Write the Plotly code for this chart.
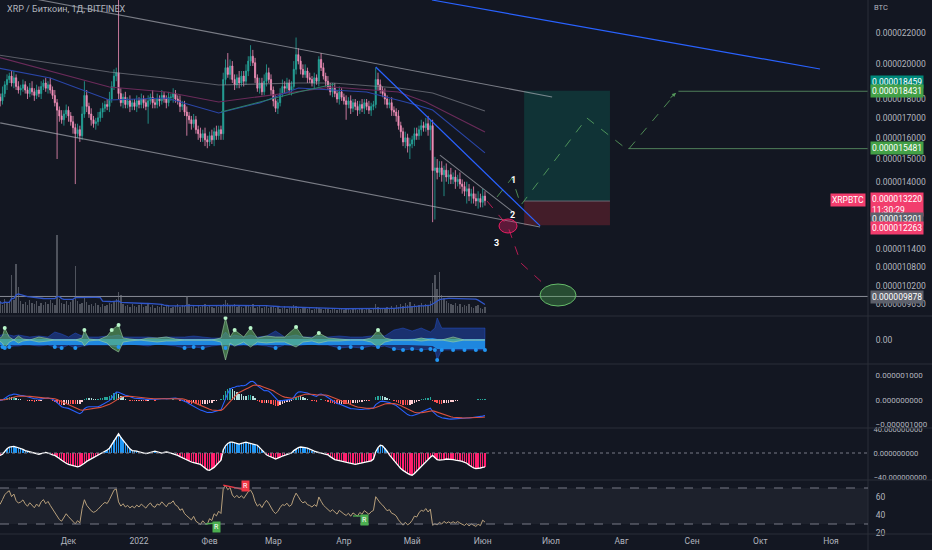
import numpy as np
import pandas as pd
import plotly.graph_objects as go

# XRP / BTC daily candles, values in 1e-9 BTC (18000 -> 0.000018000)
first_day = "2021-10-31"
first_open = 18000
close = [
    18100, 17900, 18300, 18800, 19100, 19300, 18900, 19200, 18700, 18500,
    18600, 18800, 18500, 18300, 18600, 18400, 18200, 18500, 18300, 18700,
    18900, 18600, 18800, 18500, 18200, 17800, 17400, 17100, 16900, 17200,
    17400, 17100, 16800, 16500, 16200, 16400, 16100, 17200, 18200, 17600,
    17200, 16900, 16700, 16800, 17000, 17300, 17500, 17700, 17600, 18000,
    18700, 19300, 19500, 18300, 17800, 18100, 17700, 17900, 17600, 17800,
    17600, 17900, 17700, 18000, 17800, 17600, 17900, 18100, 17800, 17700,
    18000, 17900, 18200, 18000, 17800, 18100, 18100, 18300, 18000, 17900,
    17600, 17700, 17300, 17100, 16900, 16700, 16900, 16400, 16200, 16000,
    16200, 15900, 15800, 16100, 15900, 16300, 16100, 16400, 16200, 19100,
    19800, 19400, 19900, 19100, 18800, 19200, 18900, 19300, 19000, 19600,
    20200, 20500, 20100, 19200, 18600, 18900, 18400, 19000, 19500, 19100,
    18500, 17900, 17500, 17800, 18300, 18700, 18600, 18900, 18500, 18700,
    19700, 20600, 20200, 19700, 19400, 19600, 19200, 19100, 18900, 19200,
    19000, 20300, 19800, 19300, 19000, 18700, 18400, 18600, 18300, 18000,
    18400, 18100, 17900, 17700, 17900, 17500, 17800, 17600, 17400, 17700,
    17500, 17800, 17600, 17400, 17600, 17700, 19100, 18800, 18500, 18300,
    18000, 17700, 17800, 17400, 17300, 17100, 16600, 16300, 15800, 16000,
    15600, 15700, 15900, 16200, 16100, 16400, 16600, 16500, 16700, 16400,
    16600, 14480, 14600, 14400, 14600, 14300, 14500, 14200, 14300, 14100,
    14200, 14000, 14100, 13900, 13800, 13600, 13700, 13400, 13500, 13300,
    13200, 13300, 13150, 13400, 13220,
]
# wick length above / below the body, in 1e-7 BTC
wick_up = [
    3, 2, 4, 2, 3, 2, 3, 4, 2, 3, 2, 3, 2, 2, 3, 4, 2, 3, 2, 3,
    2, 3, 2, 4, 2, 3, 2, 2, 3, 2, 3, 2, 2, 3, 2, 3, 2, 4, 8, 3,
    2, 3, 2, 2, 3, 2, 3, 2, 3, 4, 3, 4, 3, 55, 3, 2, 3, 2, 3, 2,
    2, 3, 2, 3, 2, 2, 3, 2, 4, 2, 3, 2, 3, 2, 2, 3, 2, 3, 2, 2,
    3, 2, 2, 3, 2, 2, 3, 2, 2, 3, 2, 3, 2, 2, 3, 2, 3, 2, 2, 4,
    5, 9, 4, 3, 3, 2, 4, 3, 3, 4, 3, 7, 4, 3, 2, 3, 3, 4, 5, 3,
    3, 2, 3, 2, 3, 4, 3, 3, 2, 3, 5, 11, 4, 3, 3, 4, 2, 3, 2, 3,
    2, 2, 4, 3, 2, 3, 2, 3, 3, 2, 3, 2, 2, 3, 2, 3, 2, 2, 3, 2,
    3, 2, 2, 3, 2, 2, 7, 4, 3, 2, 3, 2, 2, 3, 2, 2, 3, 2, 2, 3,
    2, 3, 2, 3, 3, 2, 3, 2, 3, 4, 3, 3, 5, 4, 3, 3, 2, 3, 2, 3,
    2, 3, 2, 3, 2, 2, 3, 2, 2, 3, 2, 3, 2, 3, 2,
]
wick_dn = [
    2, 3, 2, 2, 3, 2, 2, 3, 2, 2, 3, 2, 2, 3, 2, 2, 3, 2, 2, 3,
    2, 2, 3, 2, 2, 2, 24, 3, 2, 3, 2, 3, 2, 3, 23, 2, 3, 2, 2, 3,
    2, 3, 2, 3, 2, 2, 3, 2, 2, 3, 2, 2, 3, 3, 2, 3, 2, 2, 3, 2,
    2, 3, 2, 2, 3, 2, 9, 2, 3, 2, 2, 3, 2, 2, 3, 2, 2, 3, 2, 2,
    3, 2, 2, 10, 2, 3, 2, 2, 3, 2, 2, 3, 3, 2, 2, 3, 2, 2, 3, 3,
    3, 2, 3, 2, 3, 2, 3, 2, 3, 2, 3, 3, 2, 3, 2, 3, 2, 2, 3, 2,
    3, 3, 2, 3, 2, 2, 3, 2, 2, 3, 2, 3, 2, 3, 2, 2, 3, 2, 2, 3,
    2, 3, 2, 2, 3, 2, 2, 3, 2, 2, 3, 2, 2, 8, 2, 3, 2, 2, 3, 2,
    2, 3, 2, 2, 3, 2, 2, 3, 2, 2, 3, 2, 2, 3, 2, 3, 2, 3, 2, 3,
    3, 6, 2, 3, 2, 2, 3, 2, 2, 3, 10, 21, 20, 3, 2, 3, 9, 2, 3, 2,
    2, 3, 2, 2, 3, 2, 5, 2, 3, 2, 2, 3, 2, 2, 2,
]
volume = [
    9, 12, 8, 14, 10, 11, 38, 13, 49, 26, 12, 9, 11, 8, 13, 10, 9, 12, 7, 10,
    8, 11, 9, 13, 10, 8, 78, 14, 10, 9, 12, 8, 11, 13, 47, 12, 9, 10, 15, 11,
    8, 9, 7, 10, 8, 6, 9, 7, 8, 10, 9, 12, 14, 21, 18, 9, 7, 8, 6, 9,
    7, 6, 8, 9, 6, 7, 10, 6, 8, 5, 7, 6, 9, 6, 7, 8, 5, 6, 7, 9,
    6, 8, 7, 17, 9, 6, 7, 5, 8, 6, 7, 9, 6, 8, 6, 5, 7, 6, 8, 9,
    13, 10, 8, 7, 9, 6, 8, 6, 5, 7, 8, 6, 9, 5, 6, 7, 5, 6, 8, 5,
    6, 7, 5, 6, 4, 5, 7, 4, 5, 6, 8, 7, 5, 4, 6, 5, 4, 5, 3, 4,
    6, 5, 4, 3, 5, 4, 3, 4, 5, 3, 4, 5, 3, 4, 4, 3, 5, 4, 3, 4,
    4, 3, 4, 5, 3, 4, 9, 6, 5, 4, 5, 6, 4, 7, 5, 8, 6, 9, 7, 10,
    8, 11, 7, 9, 6, 8, 10, 7, 9, 8, 12, 30, 38, 24, 41, 18, 15, 12, 10, 9,
    8, 10, 7, 9, 6, 8, 7, 9, 6, 5, 7, 8, 5, 4, 6,
]
# blue / pink oscillator (4th pane)
osc = [
    -3, -4, -2, 3, 7, 10, 11, 11, 10, 9, 8, 6, 4, 3, 2,
    1, 0, -1, -2, -1, 0, 1, 0, -2, -3, -4, -6,
    -9, -12, -15, -17, -19, -20, -21, -22, -23, -22, -20,
    -17, -14, -12, -10, -8, -6, -4, -2, 0,
    3, 5, 8, 14, 22, 28, 32, 26, 21, 16, 11, 7, 4,
    4, 3, 2, 1, 0, -1, 0, 1, 2, 3, 2, 1, 0, 1, 2, 1, 0, -1, -2, -4,
    -6, -8, -10, -12, -14, -15, -16, -17, -18, -19,
    -22, -25, -28, -29, -27, -24, -20, -16, -12,
    5, 12, 16, 18, 18, 17, 16, 15, 16, 17, 18, 17, 16, 15, 14, 13,
    9, 5, 1, -3, -5, -6, -8, -10, -9, -7, -5, -4, -2, -1, 0,
    4, 7, 9, 10, 10, 9, 8, 6, 4, 3, 2, 1, 0, -1, -2, -3,
    -6, -9, -11, -12, -13, -14, -14, -15, -16, -17, -18, -19, -18, -17, -16, -15, -15, -14, -13, -10,
    2, 9, 13, 12, 8, 3,
    -3, -8, -13, -18, -22, -26, -29, -32, -34, -36, -37,
    -34, -30, -26, -22, -18, -14, -10, -7, -4,
    -8, -11, -12, -12, -11, -10, -10, -11, -11, -12, -12, -13, -14, -15, -17,
    -20, -23, -25, -26, -26, -25, -24, -23,
]

# wave indicator (2nd pane), sampled at candle indices
wave_idx = [0, 2, 3, 5, 7, 9, 11, 14, 18, 22, 25, 28, 31, 34, 37, 38, 40, 44, 48, 50,
            53, 55, 58, 62, 66, 70, 74, 78, 82, 86, 90, 94, 98, 100, 102, 104, 108, 111, 114, 118,
            122, 126, 131, 134, 138, 141, 145, 150, 155, 160, 164, 167, 170, 174, 178, 182, 186, 190, 192, 193,
            195, 200, 205, 210, 214]
blue_up = [4, 5, 6, 5, 4, 5, 4, 3, 4, 3, 8, 6, 3, 7, 4, 6, 3, 3, 4, 4,
           5, 3, 3, 3, 3, 2, 3, 3, 3, 4, 3, 2, 2, 8, 3, 5, 3, 5, 3, 4,
           9, 3, 5, 3, 3, 4, 3, 4, 3, 3, 4, 5, 4, 10, 12, 9, 12, 8, 12, 22,
           12, 12, 12, 12, 12]
blue_dn = [-6, -7, -8, -7, -6, -6, -5, -5, -6, -5, -7, -8, -5, -8, -6, -6, -5, -5, -5, -6,
           -7, -5, -4, -5, -6, -4, -5, -6, -8, -7, -8, -6, -5, -8, -5, -6, -5, -6, -5, -6,
           -8, -5, -6, -5, -4, -5, -5, -8, -7, -8, -6, -7, -6, -9, -10, -9, -10, -9, -10, -20,
           -10, -10, -10, -10, -10]
green_up = [0, 4, 12, 3, 0, 4, 1, 0, 3, 1, 0, 0, 0, 0, 2, 10, 1, 0, 4, 10,
            15, 2, 1, 0, 2, 2, 3, 1, 0, 0, 0, 0, 2, 22, 3, 10, 3, 12, 2, 4,
            3, 3, 13, 3, 2, 7, 2, 1, 0, 0, 2, 10, 2, 0, 0, 0, 2, 0, 0, 0,
            0, 3, 0, 0, 0]
green_dn = [0, -3, -8, -2, 0, -3, -1, 0, -2, -1, 0, 0, 0, 0, -2, -6, -1, 0, -3, -8,
            -12, -2, -1, 0, -1, -2, -1, -1, 0, 0, 0, 0, -2, -20, -3, -6, -2, -7, -2, -3,
            -2, -2, -7, -2, -1, -3, -1, -1, 0, 0, -2, -7, -2, 0, 0, 0, -1, 0, 0, 0,
            0, -2, 0, 0, 0]
core_idx = [0, 60, 120, 180, 191, 193, 214]
core_up = [1, 1, 1, 1, 2, 1, 1]
core_dn = [-5, -5, -5, -5, -6, -9, -9]

# moving averages (1e-9 BTC)
ma_gray_d = ["2021-10-31", "2021-12-19", "2022-01-12", "2022-02-05", "2022-03-12",
             "2022-03-27", "2022-04-25", "2022-05-10", "2022-06-02"]
ma_gray = [20580, 19540, 19190, 18780, 18900, 18900, 18610, 18330, 17360]
ma_purple_d = ["2021-10-31", "2021-12-19", "2022-01-13", "2022-02-05", "2022-03-27",
               "2022-04-25", "2022-05-07", "2022-06-02"]
ma_purple = [20450, 18670, 18390, 17840, 18670, 18390, 17840, 16280]
ma_blue_d = ["2021-10-31", "2021-11-23", "2021-12-19", "2022-01-13", "2022-02-05", "2022-02-23",
             "2022-03-12", "2022-04-11", "2022-05-03", "2022-05-10", "2022-06-02"]
ma_blue = [19780, 19190, 17950, 18060, 17250, 17790, 18610, 18390, 17680, 17410, 15280]
ma_green_d = ["2022-02-06", "2022-02-23", "2022-03-12", "2022-03-28"]
ma_green = [17300, 17840, 18390, 18840]

# drawings on the price pane: (start, price, end, price)
channel_lines = [("2021-11-10", 24600, "2022-07-01 12:00", 18110),
                 ("2021-11-01", 16740, "2022-06-26 05:00", 12200),
                 ("2022-05-13 05:00", 15180, "2022-06-14 07:00", 12770)]
blue_lines = [("2022-04-15", 19840, "2022-06-26 05:00", 12240),
              ("2022-05-09 17:00", 24320, "2022-10-27 05:00", 19720)]
level_start = ["2022-08-26", "2022-08-04", "2021-10-31"]
level_price = [18431, 15481, 9878]
pos_start, pos_end = "2022-06-19 05:00", "2022-07-26 22:00"
pos_target, pos_entry, pos_stop = 18459, 13201, 12263
up_path_d = ["2022-06-07 07:00", "2022-06-13 21:00", "2022-06-17 19:00",
             "2022-07-16 19:00", "2022-08-03 19:00", "2022-08-24 22:00"]
up_path = [13365, 14160, 13040, 16990, 15415, 18330]
down_path_d = ["2022-06-02 22:00", "2022-06-12 00:00", "2022-06-17 19:00", "2022-06-28 07:00"]
down_path = [13200, 12240, 10935, 10230]

# rsi divergence marks
div_bear_d = ["2022-02-07", "2022-02-17"]
div_bear = [73.3, 67.8]
div_bull1_d = ["2022-01-30", "2022-02-04"]
div_bull1 = [30.0, 31.1]
div_bull2_d = ["2022-04-05", "2022-04-10"]
div_bull2 = [38.9, 38.9]

month_ticks = ["2021-11-01", "2021-12-01", "2022-01-01", "2022-02-01", "2022-03-01", "2022-04-01",
               "2022-05-01", "2022-06-01", "2022-07-01", "2022-08-01", "2022-09-01", "2022-10-01",
               "2022-11-01"]
month_names = ["Ноя", "Дек", "2022", "Фев", "Мар", "Апр", "Май", "Июн", "Июл", "Авг", "Сен", "Окт", "Ноя"]
price_ticks = [22000, 20000, 18000, 17000, 16000, 15000, 14000, 11400, 10800, 10200, 9650]
price_tags = [18459, 18431, 15481, 13220, 13201, 12263, 9878]

# ---------------------------------------------------------------------------
SAT = 1e-9
DAY_MS = 86400000
BG = "#131722"
TXT = "#b2b5be"
W_PX, H_PX = 868, 534   # plot area in pixels

dates = pd.date_range(first_day, periods=len(close), freq="D")
c = np.array(close, dtype=float)
o = np.concatenate([[first_open], c[:-1]])
hi = np.maximum(o, c) + np.array(wick_up) * 100
lo = np.minimum(o, c) - np.array(wick_dn) * 100
cs = pd.Series(c * SAT, index=dates)

# macd 12/26/9
macd = cs.ewm(span=12, adjust=False).mean() - cs.ewm(span=26, adjust=False).mean()
signal = macd.ewm(span=9, adjust=False).mean()
hist = (macd - signal).values
prev = np.concatenate([[hist[0]], hist[:-1]])
hist_col = np.where(hist >= 0, np.where(hist >= prev, "#26a69a", "#b2dfdb"),
                    np.where(hist < prev, "#ff5252", "#ffcdd2"))


# rsi 14, wilder smoothing seeded with the mean of the first 14 moves
def wilder(s, n=14):
    seeded = pd.concat([pd.Series([s.iloc[:n].mean()]), s.reset_index(drop=True)])
    return seeded.ewm(alpha=1 / n, adjust=False).mean().iloc[1:].values


delta = pd.Series(np.diff(np.concatenate([[first_open], c])))
avg_g = wilder(delta.clip(lower=0))
avg_l = wilder(-delta.clip(upper=0))
rsi = 100 - 100 / (1 + avg_g / avg_l)

osc_a = np.array(osc)
osc_col = np.where(np.abs(osc_a) < 3, "#787b86", np.where(osc_a > 0, "#2196f3", "#ff1f6d"))
vol_ma = pd.Series(volume).rolling(20, min_periods=1).mean()


def px(x, y):
    return x / W_PX, 1 - y / H_PX


def band(idx, up, dn):
    d = list(dates[idx])
    return d + d[::-1], list(up) + list(dn)[::-1]


fig = go.Figure()

# moving averages
for d, v, col in [(ma_gray_d, ma_gray, "rgba(150,152,160,0.55)"),
                  (ma_purple_d, ma_purple, "#6b2b5a"),
                  (ma_blue_d, ma_blue, "#2a46a8"),
                  (ma_green_d, ma_green, "#2e8068")]:
    fig.add_trace(go.Scatter(x=d, y=np.array(v) * SAT, mode="lines",
                             line=dict(color=col, width=1.1), hoverinfo="skip"))

# long position box
fig.add_trace(go.Scatter(x=[pos_start, pos_end, pos_end, pos_start, pos_start],
                         y=np.array([pos_target, pos_target, pos_entry, pos_entry, pos_target]) * SAT,
                         fill="toself", fillcolor="rgba(8,153,129,0.22)", mode="lines",
                         line=dict(width=0), hoverinfo="skip"))
fig.add_trace(go.Scatter(x=[pos_start, pos_end, pos_end, pos_start, pos_start],
                         y=np.array([pos_entry, pos_entry, pos_stop, pos_stop, pos_entry]) * SAT,
                         fill="toself", fillcolor="rgba(242,54,69,0.22)", mode="lines",
                         line=dict(width=0), hoverinfo="skip"))
fig.add_trace(go.Scatter(x=[pos_start, pos_end], y=[pos_entry * SAT] * 2, mode="lines",
                         line=dict(color="rgba(120,123,134,0.8)", width=1), hoverinfo="skip"))

# trend lines
for d0, p0, d1, p1 in channel_lines:
    fig.add_trace(go.Scatter(x=[d0, d1], y=[p0 * SAT, p1 * SAT], mode="lines",
                             line=dict(color="rgba(190,192,200,0.6)", width=1.1), hoverinfo="skip"))
for d0, p0, d1, p1 in blue_lines:
    fig.add_trace(go.Scatter(x=[d0, d1], y=[p0 * SAT, p1 * SAT], mode="lines",
                             line=dict(color="#2962ff", width=1.2), hoverinfo="skip"))
x_end = "2022-11-17 07:00"
for d0, p, col in zip(level_start, level_price, ["#4f7f5a", "#4f7f5a", "#8a8d96"]):
    fig.add_trace(go.Scatter(x=[d0, x_end], y=[p * SAT] * 2, mode="lines",
                             line=dict(color=col, width=1), hoverinfo="skip"))

# projected paths
fig.add_trace(go.Scatter(x=up_path_d, y=np.array(up_path) * SAT, mode="lines",
                         line=dict(color="rgba(102,187,106,0.7)", width=1, dash="dash"), hoverinfo="skip"))
fig.add_trace(go.Scatter(x=down_path_d, y=np.array(down_path) * SAT, mode="lines",
                         line=dict(color="rgba(233,30,99,0.75)", width=1, dash="dash"), hoverinfo="skip"))

# candles
fig.add_trace(go.Candlestick(x=dates, open=o * SAT, high=hi * SAT, low=lo * SAT, close=c * SAT,
                             increasing=dict(line=dict(color="#26a69a", width=0.8), fillcolor="#26a69a"),
                             decreasing=dict(line=dict(color="#f28fb9", width=0.8), fillcolor="#f28fb9"),
                             whiskerwidth=0, hoverinfo="skip"))

# volume
fig.add_trace(go.Bar(x=dates, y=volume, yaxis="y6", width=0.6 * DAY_MS,
                     marker=dict(color="rgba(120,123,134,0.6)", line=dict(width=0)), hoverinfo="skip"))
fig.add_trace(go.Scatter(x=dates, y=vol_ma, yaxis="y6", mode="lines",
                         line=dict(color="#2f55c9", width=1.3), hoverinfo="skip"))

# wave pane
bx, by = band(wave_idx, blue_up, blue_dn)
fig.add_trace(go.Scatter(x=bx, y=by, yaxis="y2", fill="toself", fillcolor="rgba(41,98,255,0.35)",
                         mode="lines", line=dict(color="rgba(41,98,255,0.6)", width=0.6), hoverinfo="skip"))
cx, cy = band(core_idx, core_up, core_dn)
fig.add_trace(go.Scatter(x=cx, y=cy, yaxis="y2", fill="toself", fillcolor="rgba(33,150,243,0.85)",
                         mode="lines", line=dict(width=0), hoverinfo="skip"))
gx, gy = band(wave_idx, green_up, green_dn)
fig.add_trace(go.Scatter(x=gx, y=gy, yaxis="y2", fill="toself", fillcolor="rgba(102,187,106,0.55)",
                         mode="lines", line=dict(color="rgba(165,214,167,0.8)", width=0.7), hoverinfo="skip"))
g_pk = [k for k, v in enumerate(green_up) if v >= 7]
fig.add_trace(go.Scatter(x=dates[[wave_idx[k] for k in g_pk]], y=[green_up[k] for k in g_pk], yaxis="y2",
                         mode="markers", marker=dict(color="#b9f6ca", size=4), hoverinfo="skip"))
b_pk = [k for k, v in enumerate(blue_dn) if v <= -7]
fig.add_trace(go.Scatter(x=dates[[wave_idx[k] for k in b_pk]], y=[blue_dn[k] for k in b_pk], yaxis="y2",
                         mode="markers", marker=dict(color="#2196f3", size=4), hoverinfo="skip"))

# macd pane
fig.add_trace(go.Bar(x=dates, y=hist, yaxis="y3", width=0.6 * DAY_MS,
                     marker=dict(color=hist_col, line=dict(width=0)), hoverinfo="skip"))
fig.add_trace(go.Scatter(x=dates, y=macd, yaxis="y3", mode="lines",
                         line=dict(color="#2962ff", width=1.1), hoverinfo="skip"))
fig.add_trace(go.Scatter(x=dates, y=signal, yaxis="y3", mode="lines",
                         line=dict(color="#d9513f", width=1.1), hoverinfo="skip"))

# oscillator pane
fig.add_trace(go.Bar(x=dates, y=osc, yaxis="y4", width=0.6 * DAY_MS,
                     marker=dict(color=osc_col, line=dict(width=0)), hoverinfo="skip"))
fig.add_trace(go.Scatter(x=dates, y=osc, yaxis="y4", mode="lines",
                         line=dict(color="#ffffff", width=1.3), hoverinfo="skip"))

# rsi pane
fig.add_trace(go.Scatter(x=dates, y=rsi, yaxis="y5", mode="lines",
                         line=dict(color="#b8a07c", width=1), hoverinfo="skip"))
for d, v, col in [(div_bear_d, div_bear, "#f23645"), (div_bull1_d, div_bull1, "#4caf50"),
                  (div_bull2_d, div_bull2, "#4caf50")]:
    fig.add_trace(go.Scatter(x=d, y=v, yaxis="y5", mode="lines",
                             line=dict(color=col, width=1.3), hoverinfo="skip"))

# ---------------------------------------------------------------------------
pane_px = [316, 364, 428, 480, 534]
dom = [1 - p / H_PX for p in pane_px]

shapes = []
for p in pane_px[:-1]:
    shapes.append(dict(type="line", xref="paper", yref="paper", x0=0, x1=932 / W_PX,
                       y0=1 - p / H_PX, y1=1 - p / H_PX, line=dict(color="#2a2e39", width=1)))
shapes.append(dict(type="line", xref="paper", yref="paper", x0=0, x1=932 / W_PX, y0=0, y1=0,
                   line=dict(color="#2a2e39", width=1)))
shapes.append(dict(type="line", xref="paper", yref="paper", x0=1, x1=1, y0=-16 / H_PX, y1=1,
                   line=dict(color="#2a2e39", width=1)))
shapes.append(dict(type="rect", xref="paper", yref="y5", x0=0, x1=1, y0=30, y1=70,
                   fillcolor="rgba(120,123,134,0.10)", line=dict(width=0), layer="below"))
for lv in (30, 70):
    shapes.append(dict(type="line", xref="paper", yref="y5", x0=0, x1=1, y0=lv, y1=lv,
                       line=dict(color="#787b86", width=1, dash="dash")))
shapes.append(dict(type="line", xref="paper", yref="y4", x0=0, x1=1, y0=0, y1=0,
                   line=dict(color="#787b86", width=1, dash="dot")))
# ellipses
x0, y1 = px(499, 219)
x1, y0 = px(517, 233)
shapes.append(dict(type="circle", xref="paper", yref="paper", x0=x0, x1=x1, y0=y0, y1=y1,
                   fillcolor="rgba(233,30,99,0.35)", line=dict(color="#e91e63", width=1)))
x0, y1 = px(540, 284)
x1, y0 = px(576, 306)
shapes.append(dict(type="circle", xref="paper", yref="paper", x0=x0, x1=x1, y0=y0, y1=y1,
                   fillcolor="rgba(76,175,80,0.35)", line=dict(color="#66bb6a", width=1)))

ann = []
tx, ty = px(5, 9)
ann.append(dict(xref="paper", yref="paper", x=tx, y=ty, xanchor="left", yanchor="middle",
                text="XRP / Биткоин, 1Д, BITFINEX", showarrow=False, font=dict(size=9, color=TXT)))
tx, ty = px(872, 7)
ann.append(dict(xref="paper", yref="paper", x=tx, y=ty, xanchor="left", yanchor="middle",
                text="BTC", showarrow=False, font=dict(size=7.5, color=TXT)))
for t, (lx, ly) in zip(["1", "2", "3"], [(513, 173), (512, 215), (496, 243)]):
    tx, ty = px(lx, ly)
    ann.append(dict(xref="paper", yref="paper", x=tx, y=ty, text="<b>%s</b>" % t, showarrow=False,
                    font=dict(size=9, color="#ffffff")))
tx, ty = px(676, 93)
ann.append(dict(xref="paper", yref="paper", x=tx, y=ty, ax=-7, ay=6, text="", showarrow=True,
                arrowhead=2, arrowsize=0.8, arrowwidth=1, arrowcolor="rgba(102,187,106,0.8)"))

# price tags on the scale
tag_style = [("#00897b", 82), ("#43a047", 91), ("#43a047", 148), ("#f23d6d", 205),
             ("#5d606b", 219), ("#f23d6d", 228), ("#5d606b", 297)]
for val, (bg, ly) in zip(price_tags, tag_style):
    txt = "%.9f" % (val * SAT)
    if val == close[-1]:
        txt += "<br>11:30:29"
    tx, ty = px(870, ly)
    ann.append(dict(xref="paper", yref="paper", x=tx, y=ty, xanchor="left", yanchor="middle",
                    text=txt, showarrow=False, align="left", bgcolor=bg, borderpad=1,
                    font=dict(size=8.5, color="#ffffff")))
tx, ty = px(866, 200)
ann.append(dict(xref="paper", yref="paper", x=tx, y=ty, xanchor="right", yanchor="middle",
                text="XRPBTC", showarrow=False, bgcolor="#f23d6d", borderpad=1,
                font=dict(size=8.5, color="#ffffff")))
for d, v, col in [(div_bear_d[1], div_bear[1] + 4.5, "#f23645"), (div_bull1_d[1], div_bull1[1] - 4.5, "#4caf50"),
                  (div_bull2_d[1], div_bull2[1] - 4.5, "#4caf50")]:
    ann.append(dict(xref="x", yref="y5", x=d, y=v, text="R", showarrow=False, bgcolor=col,
                    borderpad=1, font=dict(size=7, color="#ffffff")))


def yax(domain, rng, vals, texts, fs=8.5, **kw):
    d = dict(domain=domain, range=rng, anchor="x", side="right", showgrid=False, zeroline=False,
             showline=False, ticks="outside", ticklen=5, tickcolor=BG, tickvals=vals, ticktext=texts,
             tickfont=dict(size=fs, color=TXT), automargin=False, fixedrange=True)
    d.update(kw)
    return d


fig.update_layout(
    width=932, height=550, template="none",
    margin=dict(l=0, r=64, t=0, b=16),
    paper_bgcolor=BG, plot_bgcolor=BG, showlegend=False, bargap=0,
    font=dict(family="Roboto, sans-serif", size=9, color=TXT),
    xaxis=dict(type="date", range=["2021-10-31 22:00", x_end], anchor="y5", showgrid=False,
               zeroline=False, showline=False, ticks="", tickvals=month_ticks, ticktext=month_names,
               tickfont=dict(size=8.5, color=TXT), automargin=False, rangeslider=dict(visible=False)),
    yaxis=yax([dom[0], 1], [np.log10(9308 * SAT), np.log10(24322 * SAT)],
              [v * SAT for v in price_ticks], ["%.9f" % (v * SAT) for v in price_ticks], type="log"),
    yaxis6=dict(domain=[dom[0], 1], range=[-3, 313], overlaying="y", visible=False, fixedrange=True),
    yaxis2=yax([dom[1], dom[0]], [-24, 24], [0], ["0.00"]),
    yaxis3=yax([dom[2], dom[1]], [-1.143e-6, 1.469e-6], [1e-6, 0, -1e-6],
               ["0.000001000", "0.000000000", "\u22120.000001000"], fs=8),
    yaxis4=yax([dom[3], dom[2]], [-45, 41.7], [40, 0, -40],
               ["40.000000000", "0.000000000", "\u221240.000000000"], fs=7.6, ticklen=3),
    yaxis5=yax([0, dom[3]], [18.9, 78.9], [60, 40, 20], ["60", "40", "20"]),
    shapes=shapes, annotations=ann,
)

fig.write_html("out.html", config={"staticPlot": True},
               post_script="document.body.style.margin='0';document.body.style.background='#131722';")
